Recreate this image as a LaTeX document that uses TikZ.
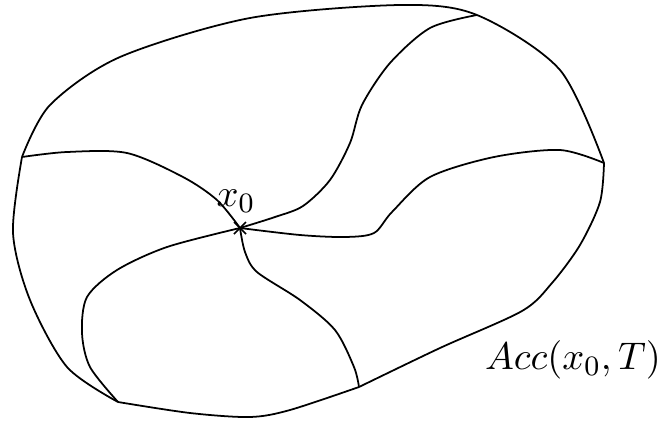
\documentclass[tikz,border=0pt]{standalone}
\begin{document}
\begin{tikzpicture}[x=0.01cm,y=-0.01cm,
  curve/.style={line width=0.5pt,black},
  lbl/.style={inner sep=0pt,font=\fontsize{10.8}{13}\selectfont}]
\useasboundingbox (0,0) rectangle (657,421);
% junctions
\coordinate (L) at (22,157);
\coordinate (Tp) at (477,15);
\coordinate (R) at (604,163);
\coordinate (B) at (359,387);
\coordinate (BL) at (118,402);
\coordinate (X) at (240,228);
% outer boundary
\draw[curve] plot[smooth] coordinates {(22,157) (50,105) (120,57) (250,18) (400,5) (477,15) (560,70) (604,163)};
\draw[curve] plot[smooth] coordinates {(604,163) (600,202) (580,245) (552,283) (522,311) (440,348) (359,387)};
\draw[curve] plot[smooth] coordinates {(359,387) (290,410) (250,417) (190,413) (118,402)};
\draw[curve] plot[smooth] coordinates {(118,402) (67,367) (30,300) (13,233) (22,157)};
% inner curves through x0
\draw[curve] plot[smooth] coordinates {(22,157) (67,152) (127,153) (183,177) (217,200) (240,228)};
\draw[curve] plot[smooth] coordinates {(240,228) (275,217) (303,206) (330,180) (350,143) (362,105) (390,63) (430,28) (477,15)};
\draw[curve] plot[smooth] coordinates {(240,228) (300,235) (345,237) (374,233) (392,212) (430,177) (494,157) (560,150) (604,163)};
\draw[curve] plot[smooth] coordinates {(240,228) (167,247) (117,270) (87,297) (82,333) (90,367) (118,402)};
\draw[curve] plot[smooth] coordinates {(240,228) (245,252) (257,272) (300,300) (335,330) (354,367) (359,387)};
% cross mark
\draw[curve] (234,222) -- (246,234) (234,234) -- (246,222);
% labels
\node[lbl] (x0) at (236,201) {$x_0$};
\node[lbl] (acc) at (573,360) {$Acc(x_0,T)$};
\end{tikzpicture}
\end{document}
